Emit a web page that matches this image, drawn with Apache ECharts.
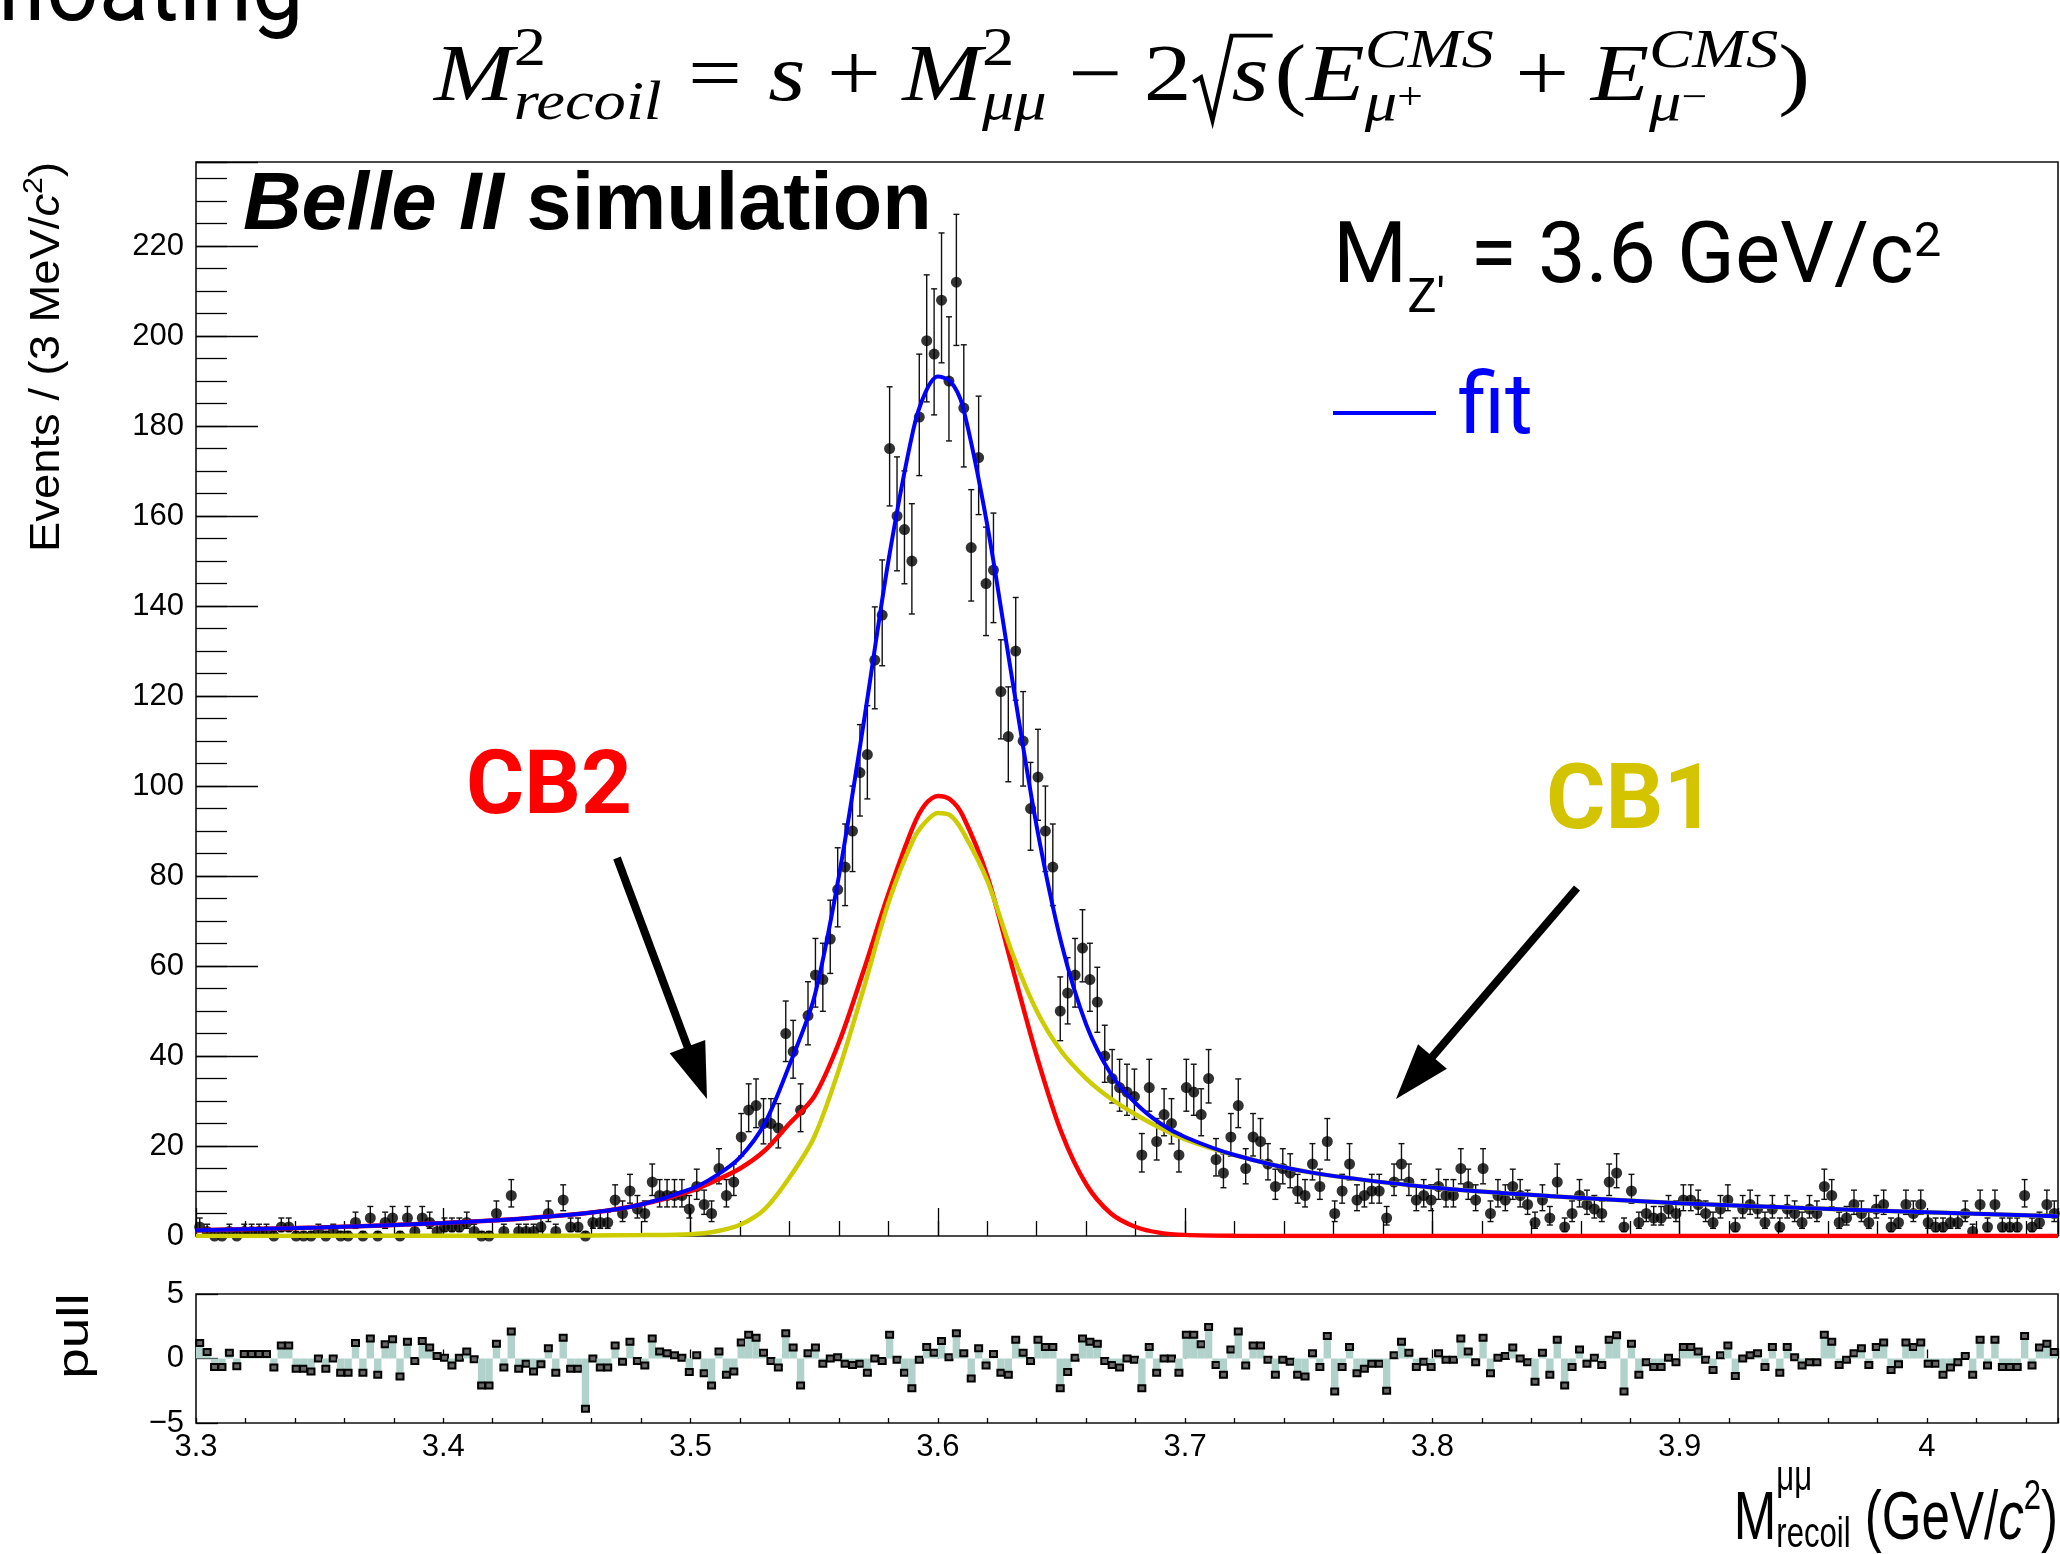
<!DOCTYPE html>
<html>
<head>
<meta charset="utf-8">
<title>Recoil mass fit</title>
<script src="https://cdn.jsdelivr.net/npm/echarts/dist/echarts.min.js"></script>
<style>
html, body { margin: 0; padding: 0; background: #fff; }
#chart { width: 2060px; height: 1554px; }
</style>
</head>
<body>
<div id="chart"></div>
<script>
'use strict';

// histogram: 3 MeV bins starting at 3.300 GeV/c^2
const X_MIN = 3.3;
const BIN = 0.003;

const counts = [
    2, 1, 0, 0, 1, 0, 1, 1, 1, 1,
    0, 2, 2, 0, 0, 0, 1, 0, 1, 0,
    0, 3, 0, 4, 0, 3, 4, 0, 4, 1,
    4, 3, 1, 2, 2, 2, 3, 1, 0, 0,
    5, 1, 9, 1, 1, 1, 2, 5, 1, 8,
    2, 2, 0, 3, 3, 3, 8, 5, 10, 6,
    5, 12, 9, 9, 9, 9, 6, 11, 7, 5,
    15, 9, 12, 22, 28, 29, 25, 25, 24, 45,
    41, 28, 49, 58, 57, 66, 77, 82, 90, 103,
    107, 128, 138, 175, 160, 157, 150, 182, 199, 196,
    208, 190, 212, 184, 153, 173, 145, 148, 121, 111,
    130, 110, 95, 102, 90, 82, 50, 54, 58, 64,
    57, 52, 40, 35, 33, 32, 31, 18, 33, 21,
    27, 25, 18, 33, 32, 27, 35, 17, 14, 22,
    29, 15, 22, 21, 16, 11, 15, 14, 10, 9,
    16, 11, 21, 5, 10, 16, 8, 9, 10, 10,
    4, 12, 16, 12, 8, 9, 8, 11, 9, 9,
    15, 11, 8, 15, 5, 9, 8, 11, 9, 7,
    3, 8, 4, 12, 2, 5, 9, 7, 6, 5,
    12, 14, 2, 10, 3, 5, 4, 4, 6, 5,
    8, 8, 7, 5, 3, 6, 8, 2, 6, 7,
    6, 3, 6, 2, 6, 5, 3, 6, 5, 11,
    9, 3, 4, 7, 5, 3, 6, 7, 2, 3,
    7, 5, 7, 3, 2, 2, 3, 3, 5, 1,
    7, 2, 7, 2, 2, 2, 9, 2, 3, 7,
    5
];

const pulls = [
    1.2, 0.5, -0.65, -0.65, 0.45, -0.6, 0.35, 0.35, 0.35, 0.35,
    -0.7, 1.0, 1.0, -0.8, -0.8, -1.0, 0, -0.8, 0, -1.1,
    -1.1, 1.2, -1.1, 1.55, -1.25, 1.1, 1.5, -1.4, 1.3, -0.2,
    1.35, 0.85, 0.2, 0.05, -0.55, 0.05, 0.55, -0.05, -2.1, -2.1,
    1.15, -0.7, 2.1, -0.8, -0.4, -1.0, -0.45, 0.8, -1.1, 1.6,
    -0.8, -0.8, -3.9, 0, -0.7, -0.7, 1.0, -0.25, 1.3, -0.2,
    -0.55, 1.55, 0.55, 0.4, 0.25, 0.05, -1.05, 0.25, -1.15, -2.1,
    0.55, -1.25, -1.0, 1.25, 1.85, 1.6, 0.45, -0.2, -0.7, 1.95,
    0.85, -2.1, 0.4, 0.85, -0.4, 0, 0.1, -0.4, -0.5, -0.4,
    -1.1, 0, -0.2, 1.85, -0.1, -1.1, -2.3, -0.1, 0.9, 0.45,
    1.35, 0.1, 1.95, 0.4, -1.55, 0.8, -0.55, 0.35, -1.1, -1.25,
    1.45, 0.45, -0.2, 1.45, 0.9, 0.9, -2.3, -1.05, 0.05, 1.55,
    1.3, 1.15, -0.2, -0.5, -0.7, 0, -0.1, -2.3, 0.9, -1.1,
    0, 0, -1.1, 1.85, 1.85, 1.1, 2.45, -0.5, -1.25, 0.7,
    2.1, -0.55, 1.0, 1.0, -0.1, -1.25, -0.1, -0.25, -1.25, -1.4,
    0.4, -0.65, 1.75, -2.55, -0.65, 0.9, -1.15, -0.8, -0.4, -0.4,
    -2.5, 0.25, 1.3, 0.45, -0.65, -0.25, -0.65, 0.4, -0.1, -0.1,
    1.55, 0.55, -0.3, 1.6, -1.15, 0.05, 0.2, 0.85, 0, -0.3,
    -1.8, 0.45, -1.25, 1.45, -2.1, -0.65, 0.7, -0.4, 0.05, -0.5,
    1.45, 1.8, -2.55, 1.15, -1.25, -0.3, -0.65, -0.65, 0.05, -0.3,
    0.9, 0.9, 0.55, -0.1, -0.9, 0.25, 1.0, -1.35, 0, 0.25,
    0.4, -0.65, 0.9, -1.1, 0.9, 0.1, -0.55, -0.3, -0.3, 1.85,
    1.3, -0.5, -0.1, 0.4, 0.8, -0.5, 0.9, 1.25, -0.9, -0.45,
    1.25, 0.9, 1.25, -0.4, -0.4, -1.25, -0.7, -0.3, 0.2, -1.25,
    1.45, -0.55, 1.45, -0.65, -0.65, -0.65, 1.75, -0.55, 0.85, 1.15,
    0.5
];

// fit curves
const curveX = [3.300, 3.350, 3.400, 3.430, 3.460, 3.480, 3.500, 3.510, 3.520, 3.530,
    3.540, 3.550, 3.560, 3.570, 3.580, 3.590, 3.595, 3.600, 3.605, 3.610,
    3.620, 3.630, 3.640, 3.650, 3.660, 3.670, 3.680, 3.690, 3.700, 3.720,
    3.750, 3.800, 3.850, 3.900, 3.950, 4.000, 4.053];
const fitY = [1.3, 1.9, 2.9, 3.8, 5.2, 7.0, 10.4, 13.3, 17.5, 25,
    38, 53, 80, 114, 150, 179, 187.5, 191, 190, 184.5,
    158, 124, 91, 65, 47, 36, 29.5, 25, 22, 18,
    14.2, 10.8, 8.8, 7.3, 6.2, 5.3, 4.4];
const cb2Y = [1.3, 1.9, 2.9, 3.8, 5.2, 7.0, 10.0, 12.3, 15.0, 19.0,
    25, 31, 43, 59, 76, 91, 96, 97.8, 97, 93.5,
    80, 60, 40, 23, 11.5, 5, 2, 0.7, 0.25, 0.05,
    0, 0, 0, 0, 0, 0, 0];
const cb1Y = [0.02, 0.03, 0.05, 0.07, 0.1, 0.2, 0.4, 1.0, 2.5, 6,
    13, 22, 37, 55, 74, 88, 92, 94, 93.5, 90,
    79, 63, 50, 41, 35, 30.5, 27, 24, 21.5, 18,
    14.2, 10.8, 8.8, 7.3, 6.2, 5.3, 4.4];

const Y_MAX = 238.7;

const SERIF = '"Liberation Serif", "DejaVu Serif", serif';
const SANS = '"Liberation Sans", Arial, sans-serif';
const ROBOTO = 'Roboto, "Noto Sans", sans-serif';

const X_MAX = +(X_MIN + BIN * counts.length).toFixed(4);
const binX = counts.map((_, i) => +(X_MIN + BIN * (i + 0.5)).toFixed(4));

// asymmetric poisson interval like RooFit
function poisson(n) {
    const r = Math.sqrt(n + 0.25);
    return [n + 0.5 - r, n + 0.5 + r];
}

const pointData = counts.map((n, i) => [binX[i], n].concat(poisson(n)));

// ---- text helpers -------------------------------------------------------
const measureCtx = document.createElement('canvas').getContext('2d');
function textWidth(text, font) {
    measureCtx.font = font;
    return measureCtx.measureText(text).width;
}

function layoutRun(pieces, family) {
    const els = [];
    let x = 0;
    pieces.forEach(p => {
        if (p.stack) {
            let widest = 0;
            p.stack.forEach(line => {
                const sub = layoutRun(line, family);
                els.push({ type: 'group', x: x, children: sub.els });
                widest = Math.max(widest, sub.width);
            });
            x += widest + (p.gap || 0);
            return;
        }
        if (p.sqrt) {
            const inner = layoutRun(p.sqrt, family);
            const s = p.s, rw = 0.42 * s;
            els.push({
                type: 'polyline',
                shape: { points: [[x + 0.02 * s, -0.30 * s], [x + 0.1 * s, -0.36 * s], [x + 0.22 * s, 0.18 * s],
                    [x + rw, -0.88 * s], [x + rw + inner.width + 0.04 * s, -0.88 * s]] },
                style: { stroke: '#000', lineWidth: 0.045 * s, fill: null }
            });
            els.push({ type: 'group', x: x + rw, children: inner.els });
            x += rw + inner.width + 0.06 * s + (p.gap || 0);
            return;
        }
        const font = [p.st || 'normal', p.w || 'normal', p.s + 'px', p.fam || family].join(' ');
        els.push({
            type: 'text',
            x: x,
            y: -(p.rise || 0) - 0.34 * p.s,
            style: {
                text: p.t, font: font, fill: p.c || '#000',
                textAlign: 'left', textVerticalAlign: 'middle',
                align: 'left', verticalAlign: 'middle'
            }
        });
        x += textWidth(p.t, font) + (p.gap || 0);
    });
    return { els: els, width: x };
}

function placeRun(pieces, o) {
    const run = layoutRun(pieces, o.family || SANS);
    let sx = o.scaleX || 1;
    if (o.fitWidth) sx = o.fitWidth / run.width;
    const off = o.anchor === 'right' ? -run.width : o.anchor === 'center' ? -run.width / 2 : 0;
    return {
        type: 'group', x: o.x, y: o.y, rotation: o.rotation || 0, scaleX: sx, scaleY: o.scaleY || 1,
        children: [{ type: 'group', x: off, children: run.els }]
    };
}

function arrow(x1, y1, x2, y2) {
    const len = Math.hypot(x2 - x1, y2 - y1);
    const ux = (x2 - x1) / len, uy = (y2 - y1) / len;
    const hl = 56, hw = 19;
    const bx = x2 - ux * hl, by = y2 - uy * hl;
    return {
        type: 'group', children: [
            { type: 'line', shape: { x1: x1, y1: y1, x2: bx + ux * 6, y2: by + uy * 6 }, style: { stroke: '#000', lineWidth: 8 } },
            { type: 'polygon', shape: { points: [[x2, y2], [bx - uy * hw, by + ux * hw], [bx + uy * hw, by - ux * hw]] }, style: { fill: '#000' } }
        ]
    };
}

// ---- annotations --------------------------------------------------------
const formula = [
    { t: 'M', s: 80, st: 'italic' },
    { stack: [[{ t: '2', s: 54, rise: 37 }], [{ t: 'recoil', s: 54, st: 'italic', rise: -17 }]], gap: 22 },
    { t: '=', s: 80, gap: 22 },
    { t: 's', s: 80, st: 'italic', gap: 18 },
    { t: '+', s: 80, gap: 18 },
    { t: 'M', s: 80, st: 'italic' },
    { stack: [[{ t: '2', s: 54, rise: 37 }], [{ t: 'μμ', s: 54, st: 'italic', rise: -17 }]], gap: 18 },
    { t: '−', s: 80, gap: 18 },
    { t: '2', s: 80 },
    { sqrt: [{ t: 's', s: 80, st: 'italic' }], s: 80 },
    { t: '(', s: 80 },
    { t: 'E', s: 80, st: 'italic' },
    { stack: [[{ t: 'CMS', s: 54, st: 'italic', rise: 35 }],
        [{ t: 'μ', s: 54, st: 'italic', rise: -18 }, { t: '+', s: 38, rise: -6 }]], gap: 18 },
    { t: '+', s: 80, gap: 18 },
    { t: 'E', s: 80, st: 'italic' },
    { stack: [[{ t: 'CMS', s: 54, st: 'italic', rise: 35 }],
        [{ t: 'μ', s: 54, st: 'italic', rise: -18 }, { t: '−', s: 38, rise: -6 }]] },
    { t: ')', s: 80 }
];

const graphics = [
    placeRun([{ t: 'floating', s: 92 }], { x: -6, y: 28, family: ROBOTO }),
    placeRun(formula, { x: 434, y: 106, family: SERIF, fitWidth: 1376 }),
    placeRun([{ t: 'Belle II', s: 81, st: 'italic', w: 'bold' }, { t: ' simulation', s: 81, w: 'bold' }],
        { x: 243, y: 234, family: SANS }),
    placeRun([{ t: 'M', s: 85 }, { t: "Z'", s: 49, rise: -26, gap: 4 }, { t: ' = 3.6 GeV/c', s: 85 }, { t: '2', s: 49, rise: 30 }],
        { x: 1333, y: 290, family: ROBOTO }),
    { type: 'line', shape: { x1: 1333, y1: 413, x2: 1436, y2: 413 }, style: { stroke: '#0000ff', lineWidth: 4 } },
    placeRun([{ t: 'fit', s: 85, c: '#0000ff' }], { x: 1458, y: 441, family: ROBOTO }),
    placeRun([{ t: 'CB2', s: 89, w: 'bold', c: '#ff0000' }], { x: 466, y: 821, family: ROBOTO }),
    placeRun([{ t: 'CB1', s: 91, w: 'bold', c: '#d4c400' }], { x: 1546, y: 836, family: ROBOTO }),
    arrow(617, 858, 707, 1099),
    arrow(1577, 888, 1396, 1099),
    placeRun([{ t: 'Events / (3 MeV/', s: 42 }, { t: 'c', s: 42, st: 'italic' }, { t: '2', s: 28, rise: 18 }, { t: ')', s: 42 }],
        { x: 62, y: 162, anchor: 'right', rotation: Math.PI / 2, family: SANS, scaleX: 1.08 }),
    placeRun([{ t: 'pull', s: 44 }], { x: 91, y: 1336, anchor: 'center', rotation: Math.PI / 2, family: SANS, scaleX: 1.25 }),
    placeRun([{ t: 'M', s: 69 },
        { stack: [[{ t: 'μμ', s: 42, rise: 50 }], [{ t: 'recoil', s: 42, rise: -7 }]] },
        { t: ' (GeV/', s: 69 }, { t: 'c', s: 69, st: 'italic' }, { t: '2', s: 42, rise: 31 }, { t: ')', s: 69 }],
        { x: 2058, y: 1543, anchor: 'right', family: SANS, scaleX: 0.74 })
];

// ---- series renderers ---------------------------------------------------
function errorBar(params, api) {
    const x = api.value(0);
    const lo = api.coord([x, api.value(2)]);
    const hi = api.coord([x, api.value(3)]);
    const st = { stroke: '#111', lineWidth: 1.4 };
    return {
        type: 'group', children: [
            { type: 'line', shape: { x1: lo[0], y1: lo[1], x2: hi[0], y2: hi[1] }, style: st },
            { type: 'line', shape: { x1: hi[0] - 3, y1: hi[1], x2: hi[0] + 3, y2: hi[1] }, style: st },
            { type: 'line', shape: { x1: lo[0] - 3, y1: lo[1], x2: lo[0] + 3, y2: lo[1] }, style: st }
        ]
    };
}

function pullBar(params, api) {
    const x = api.value(0), p = api.value(1);
    const a = api.coord([x - BIN / 2, 0]);
    const b = api.coord([x + BIN / 2, p]);
    const m = api.coord([x, p]);
    return {
        type: 'group', children: [
            { type: 'rect', shape: { x: a[0], y: Math.min(a[1], b[1]), width: b[0] - a[0], height: Math.abs(b[1] - a[1]) },
                style: { fill: '#b1d2ca' } },
            { type: 'rect', shape: { x: m[0] - 3.5, y: m[1] - 3, width: 7, height: 6 },
                style: { fill: '#666', stroke: '#000', lineWidth: 2 } }
        ]
    };
}

const tickStyle = { color: '#000', width: 1.3 };
const labelFont = { color: '#000', fontSize: 31, fontFamily: SANS };

function xAxisDef(grid, interval, len, labels) {
    return {
        type: 'value', gridIndex: grid, min: X_MIN, max: X_MAX, interval: interval, position: 'bottom',
        axisLine: { show: false }, splitLine: { show: false },
        axisTick: { show: true, inside: true, length: len, lineStyle: tickStyle },
        axisLabel: labels ? Object.assign({
            show: true, margin: 9, showMaxLabel: true, showMinLabel: true,
            formatter: v => {
                const r = Math.round(v * 10) / 10;
                return Math.abs(v - r) < 1e-6 ? String(r) : '';
            }
        }, labelFont) : { show: false }
    };
}

const chart = echarts.init(document.getElementById('chart'), null, { renderer: 'canvas' });
chart.setOption({
    animation: false,
    backgroundColor: '#fff',
    grid: [
        { left: 196, top: 162, width: 1862, height: 1074, show: true, borderColor: '#111', borderWidth: 1.6,
            backgroundColor: 'transparent', containLabel: false, outerBoundsMode: 'none' },
        { left: 196, top: 1294, width: 1862, height: 129, show: true, borderColor: '#111', borderWidth: 1.6,
            backgroundColor: 'transparent', containLabel: false, outerBoundsMode: 'none' }
    ],
    xAxis: [
        xAxisDef(0, 0.1, 28, false),
        xAxisDef(0, 0.02, 15, false),
        xAxisDef(1, 0.1, 9, true),
        xAxisDef(1, 0.02, 5, false)
    ],
    yAxis: [
        {
            type: 'value', gridIndex: 0, min: 0, max: Y_MAX, interval: 20, position: 'left',
            axisLine: { show: false }, splitLine: { show: false },
            axisTick: { show: true, inside: true, length: 62, lineStyle: tickStyle },
            axisLabel: Object.assign({
                margin: 12, showMaxLabel: true,
                formatter: v => (Math.abs(v - Math.round(v / 20) * 20) < 1e-6 ? String(Math.round(v)) : '')
            }, labelFont)
        },
        {
            type: 'value', gridIndex: 0, min: 0, max: Y_MAX, interval: 5, position: 'left',
            axisLine: { show: false }, splitLine: { show: false },
            axisTick: { show: true, inside: true, length: 31, lineStyle: tickStyle },
            axisLabel: { show: false }
        },
        {
            type: 'value', gridIndex: 1, min: -5, max: 5, interval: 5, position: 'left',
            axisLine: { show: false }, splitLine: { show: false },
            axisTick: { show: true, inside: true, length: 22, lineStyle: tickStyle },
            axisLabel: Object.assign({
                margin: 12, showMaxLabel: true, showMinLabel: true,
                formatter: v => (v < 0 ? '−' + Math.abs(v) : String(v))
            }, labelFont)
        }
    ],
    series: [
        {
            type: 'custom', name: 'errors', xAxisIndex: 0, yAxisIndex: 0, z: 2,
            renderItem: errorBar, encode: { x: 0, y: [1, 2, 3] }, data: pointData
        },
        {
            type: 'scatter', name: 'data', xAxisIndex: 0, yAxisIndex: 0, z: 3, clip: false,
            symbol: 'circle', symbolSize: 11, itemStyle: { color: '#000' },
            data: pointData.map(d => [d[0], d[1]])
        },
        {
            type: 'line', name: 'CB2', xAxisIndex: 0, yAxisIndex: 0, z: 4, smooth: 0.3, showSymbol: false,
            lineStyle: { color: '#ff0000', width: 4.5 }, data: curveX.map((x, i) => [x, cb2Y[i]])
        },
        {
            type: 'line', name: 'CB1', xAxisIndex: 0, yAxisIndex: 0, z: 4, smooth: 0.3, showSymbol: false,
            lineStyle: { color: '#cccc00', width: 4.5 }, data: curveX.map((x, i) => [x, cb1Y[i]])
        },
        {
            type: 'line', name: 'fit', xAxisIndex: 0, yAxisIndex: 0, z: 5, smooth: 0.3, showSymbol: false,
            lineStyle: { color: '#0000ff', width: 4 }, data: curveX.map((x, i) => [x, fitY[i]])
        },
        {
            type: 'custom', name: 'pull', xAxisIndex: 2, yAxisIndex: 2, z: 2,
            renderItem: pullBar, encode: { x: 0, y: 1 }, data: pulls.map((p, i) => [binX[i], p])
        }
    ],
    graphic: { elements: graphics }
});
</script>
</body>
</html>
